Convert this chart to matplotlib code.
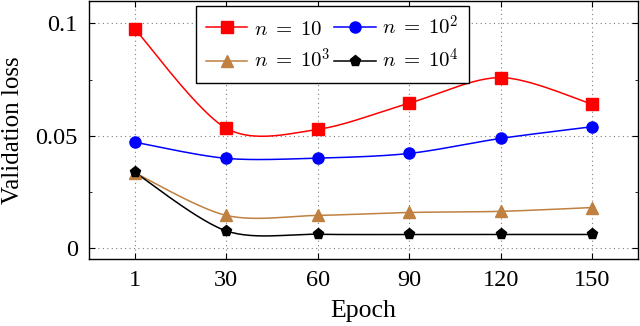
import matplotlib.pyplot as plt
import numpy as np

epochs = ["1", "30", "60", "90", "120", "150"]
loss_n10 = [0.0976, 0.0533, 0.0528, 0.0645, 0.0759, 0.0640]
loss_n100 = [0.0471, 0.0399, 0.0400, 0.0421, 0.0488, 0.0540]
loss_n1000 = [0.0335, 0.0145, 0.0145, 0.0158, 0.0163, 0.0180]
loss_n10000 = [0.0337, 0.0076, 0.0061, 0.0060, 0.0060, 0.0060]

plt.rcParams['font.family'] = ['Liberation Serif', 'DejaVu Serif']
plt.rcParams['mathtext.fontset'] = 'cm'


def smooth(xs, ys, k=0.15, n=30):
    # pgfplots-like smooth curve: cubic bezier through the points
    P = np.column_stack([np.asarray(xs, float), np.asarray(ys, float)])
    m = len(P)
    T = np.zeros_like(P)
    for i in range(m):
        T[i] = (P[min(i + 1, m - 1)] - P[max(i - 1, 0)]) * k
    out = []
    t = np.linspace(0, 1, n)[:, None]
    for i in range(m - 1):
        p0, p3 = P[i], P[i + 1]
        p1 = p0 + T[i]
        p2 = p3 - T[i + 1]
        out.append(((1 - t) ** 3) * p0 + 3 * ((1 - t) ** 2) * t * p1
                   + 3 * (1 - t) * t ** 2 * p2 + t ** 3 * p3)
    seg = np.vstack(out)
    return seg[:, 0], seg[:, 1]


fig, ax = plt.subplots(figsize=(6.4, 3.26), dpi=100)
fig.subplots_adjust(left=0.139, right=0.997, top=0.997, bottom=0.205)

x = np.arange(len(epochs))
series = [
    (loss_n10, "red", "s", r"$n\;=\;10$"),
    (loss_n100, "blue", "o", r"$n\;=\;10^2$"),
    (loss_n1000, "#BF8040", "^", r"$n\;=\;10^3$"),
    (loss_n10000, "black", "p", r"$n\;=\;10^4$"),
]
handles = []
for vals, col, mk, lab in series:
    sx, sy = smooth(x, vals)
    ax.plot(sx, sy, color=col, lw=1.1)
    ax.plot(x, vals, color=col, marker=mk, ms=8, lw=0, zorder=3)
    h, = ax.plot([], [], color=col, marker=mk, ms=8, lw=1.1, label=lab)
    handles.append(h)

ax.set_xlim(-0.5, 5.5)
ax.set_ylim(-0.005, 0.110)
ax.set_xticks(x)
ax.set_xticklabels(epochs)
ax.set_yticks([0, 0.05, 0.1])
ax.set_yticklabels(["0", "0.05", "0.1"])
ax.set_yticks([0.025, 0.075], minor=True)
ax.tick_params(direction='in', top=True, right=True, labelsize=17.5, length=4, pad=8)
ax.tick_params(which='minor', direction='in', right=True, length=2.5)
ax.grid(True, linestyle=(0, (1, 3)), color='gray', lw=0.8)
ax.set_axisbelow(True)
for s in ax.spines.values():
    s.set_linewidth(1.0)

ax.set_xlabel("Epoch", fontsize=18.5, labelpad=6)
ax.set_ylabel("Validation loss", fontsize=18, labelpad=8)

# legend filled row by row like pgfplots
order = [0, 2, 1, 3]
leg = ax.legend([handles[i] for i in order], [series[i][3] for i in order], ncol=2,
                loc='upper center', bbox_to_anchor=(0.4435, 0.98), borderaxespad=0,
                fontsize=15, fancybox=False, edgecolor='black', framealpha=1,
                handlelength=2.0, columnspacing=0.2, handletextpad=0.3,
                borderpad=0.45, labelspacing=0.45)
leg.get_frame().set_linewidth(1.0)

plt.savefig("out.png", dpi=100)
